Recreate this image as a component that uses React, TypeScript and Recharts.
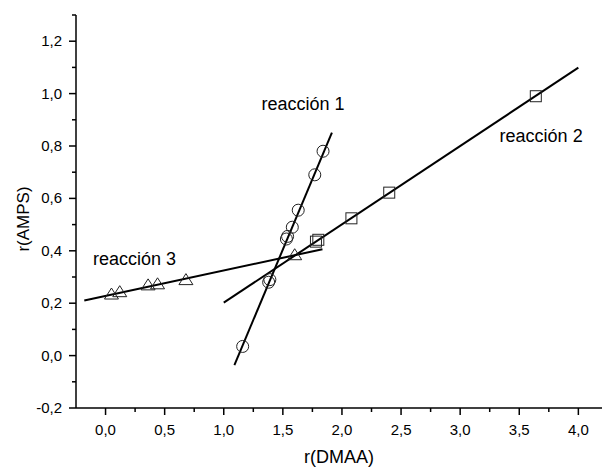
import React from 'react';
import { ScatterChart, Scatter, XAxis, YAxis, ReferenceDot } from 'recharts';

// reacción 1 (círculos)
const r1X = [1.16, 1.38, 1.39, 1.53, 1.54, 1.58, 1.63, 1.77, 1.84];
const r1Y = [0.035, 0.28, 0.29, 0.445, 0.455, 0.49, 0.555, 0.69, 0.78];
// reacción 2 (cuadrados)
const r2X = [1.78, 1.8, 2.08, 2.4, 3.64];
const r2Y = [0.435, 0.442, 0.524, 0.622, 0.99];
// reacción 3 (triángulos)
const r3X = [0.05, 0.12, 0.36, 0.44, 0.68, 1.6];
const r3Y = [0.235, 0.244, 0.27, 0.274, 0.29, 0.385];

// rectas de ajuste (extremos)
const fit1X = [1.09, 1.915];
const fit1Y = [-0.036, 0.851];
const fit2X = [1.0, 4.0];
const fit2Y = [0.202, 1.099];
const fit3X = [-0.18, 1.835];
const fit3Y = [0.21, 0.406];

const xTicks = [0, 0.25, 0.5, 0.75, 1, 1.25, 1.5, 1.75, 2, 2.25, 2.5, 2.75, 3, 3.25, 3.5, 3.75, 4];
const yTicks = [-0.2, -0.1, 0, 0.1, 0.2, 0.3, 0.4, 0.5, 0.6, 0.7, 0.8, 0.9, 1.0, 1.1, 1.2, 1.3];

const toPts = (xs: number[], ys: number[]) => xs.map((x, i) => ({ x, y: ys[i] }));

const fmt = (v: number) => v.toFixed(1).replace('.', ',');
const isMult = (v: number, step: number) => Math.abs(v / step - Math.round(v / step)) < 1e-6;

const FONT = '"Liberation Sans", Arial, sans-serif';

const XTick = (p: any) => {
  const v = p.payload.value;
  const major = isMult(v, 0.5);
  return (
    <g>
      <line x1={p.x} x2={p.x} y1={p.y} y2={p.y + (major ? 7 : 4)} stroke="#000" strokeWidth={1.5} />
      {major && (
        <text x={p.x} y={p.y + 27} textAnchor="middle" fontSize={15} fontFamily={FONT} fill="#000">
          {fmt(v)}
        </text>
      )}
    </g>
  );
};

const YTick = (p: any) => {
  const v = p.payload.value;
  const major = isMult(v, 0.2);
  return (
    <g>
      <line x1={p.x} x2={p.x - (major ? 7 : 4)} y1={p.y} y2={p.y} stroke="#000" strokeWidth={1.5} />
      {major && (
        <text x={p.x - 14} y={p.y + 5} textAnchor="end" fontSize={15} fontFamily={FONT} fill="#000">
          {fmt(v)}
        </text>
      )}
    </g>
  );
};

const CircleMark = (p: any) => (
  <circle cx={p.cx} cy={p.cy} r={6} fill="none" stroke="#222" strokeWidth={1} />
);
const SquareMark = (p: any) => (
  <rect x={p.cx - 5.5} y={p.cy - 5.5} width={11} height={11} fill="none" stroke="#222" strokeWidth={1} />
);
const TriangleMark = (p: any) => (
  <polygon
    points={`${p.cx - 7},${p.cy + 5} ${p.cx + 7},${p.cy + 5} ${p.cx},${p.cy - 6}`}
    fill="none"
    stroke="#222"
    strokeWidth={1}
  />
);
const NoMark = () => <g />;

const lineStyle = { stroke: '#000', strokeWidth: 2 };
const labelStyle = { fontSize: 18, fill: '#000', fontFamily: FONT };

export default function App() {
  return (
    <div style={{ position: 'absolute', left: 0, top: 0, width: 602, height: 472, background: '#fff', fontFamily: FONT }}>
      <ScatterChart width={602} height={472} margin={{ top: 15, right: 0, bottom: 0, left: 0 }}>
        <XAxis
          type="number"
          dataKey="x"
          domain={[-0.25, 4.2]}
          allowDataOverflow
          ticks={xTicks}
          interval={0}
          height={64}
          tickSize={0}
          tickMargin={0}
          tickLine={false}
          tick={<XTick />}
          axisLine={{ stroke: '#000', strokeWidth: 1.5 }}
          label={{
            content: () => (
              <text x={339} y={463} textAnchor="middle" fontSize={18} fontFamily={FONT} fill="#000">
                r(DMAA)
              </text>
            ),
          }}
        />
        <YAxis
          type="number"
          dataKey="y"
          domain={[-0.2, 1.3]}
          allowDataOverflow
          ticks={yTicks}
          interval={0}
          width={76}
          tickSize={0}
          tickMargin={0}
          tickLine={false}
          tick={<YTick />}
          axisLine={{ stroke: '#000', strokeWidth: 1.5 }}
          label={{
            content: () => (
              <text
                x={29}
                y={219}
                transform="rotate(-90 29 219)"
                textAnchor="middle"
                fontSize={17}
                fontFamily={FONT}
                fill="#000"
              >
                r(AMPS)
              </text>
            ),
          }}
        />
        <Scatter data={toPts(fit1X, fit1Y)} line={lineStyle} shape={<NoMark />} isAnimationActive={false} />
        <Scatter data={toPts(fit2X, fit2Y)} line={lineStyle} shape={<NoMark />} isAnimationActive={false} />
        <Scatter data={toPts(fit3X, fit3Y)} line={lineStyle} shape={<NoMark />} isAnimationActive={false} />
        <Scatter data={toPts(r1X, r1Y)} shape={<CircleMark />} isAnimationActive={false} />
        <Scatter data={toPts(r2X, r2Y)} shape={<SquareMark />} isAnimationActive={false} />
        <Scatter data={toPts(r3X, r3Y)} shape={<TriangleMark />} isAnimationActive={false} />
        <ReferenceDot x={1.67} y={0.962} r={0} fill="none" stroke="none" label={{ value: 'reacción 1', position: 'center', ...labelStyle }} />
        <ReferenceDot x={3.685} y={0.84} r={0} fill="none" stroke="none" label={{ value: 'reacción 2', position: 'center', ...labelStyle }} />
        <ReferenceDot x={0.245} y={0.37} r={0} fill="none" stroke="none" label={{ value: 'reacción 3', position: 'center', ...labelStyle }} />
      </ScatterChart>
    </div>
  );
}
